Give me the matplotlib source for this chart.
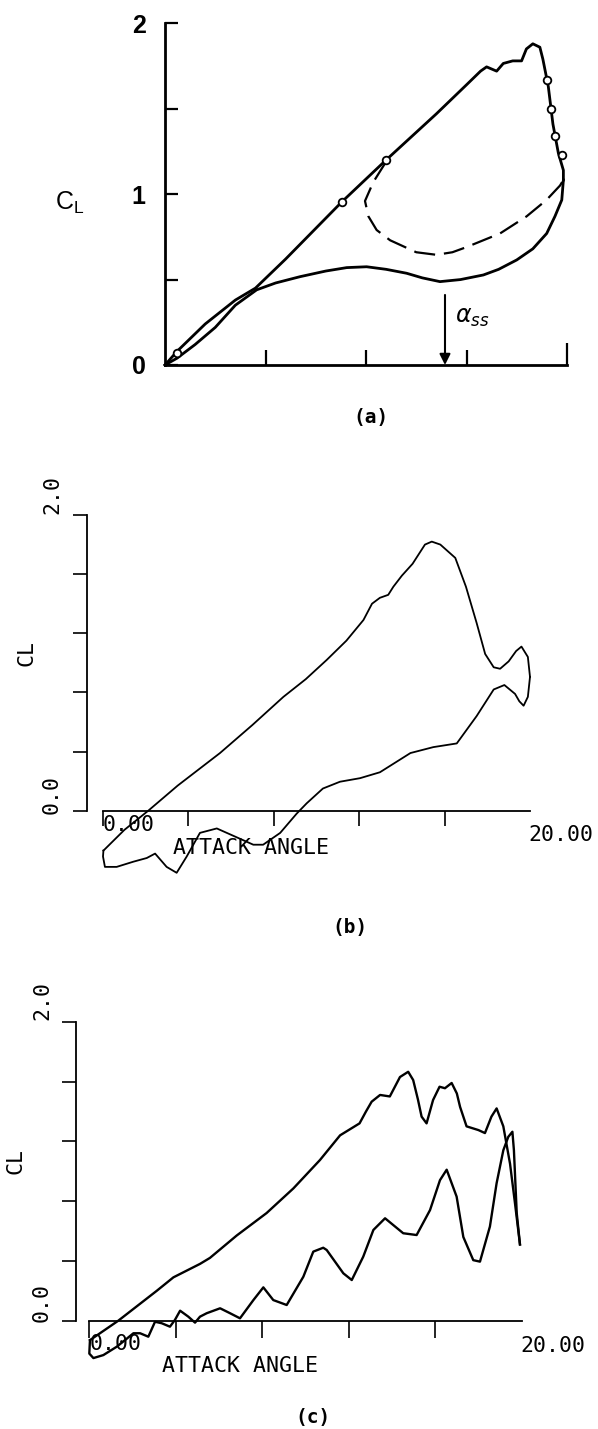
import matplotlib
matplotlib.use("Agg")
import matplotlib.pyplot as plt

W, H = 598, 1429

# ---------------- data ----------------
# Panel (a): experimental hysteresis loop
a_up_alpha = [0.0, 0.6, 2.0, 3.5, 4.5, 6.0, 8.8, 11.0, 13.5, 15.0, 15.7, 16.0, 16.5, 16.83,
              17.3, 17.74, 17.98, 18.3, 18.65, 18.8, 19.07, 19.3, 19.57, 19.82, 19.82]
a_up_cl = [0.0, 0.08, 0.24, 0.38, 0.45, 0.62, 0.955, 1.2, 1.47, 1.64, 1.72, 1.745, 1.72, 1.765,
           1.78, 1.78, 1.85, 1.88, 1.86, 1.79, 1.63, 1.41, 1.24, 1.14, 1.083]
a_dn_alpha = [19.82, 19.74, 19.4, 18.99, 18.3, 17.5, 16.6, 15.84, 14.7, 13.68, 12.8, 12.02,
              11.0, 10.03, 9.04, 8.0, 6.72, 5.5, 4.56, 3.5, 2.5, 1.5, 0.6, 0.0]
a_dn_cl = [1.083, 0.966, 0.87, 0.77, 0.68, 0.615, 0.56, 0.527, 0.50, 0.488, 0.51, 0.537,
           0.56, 0.575, 0.57, 0.55, 0.517, 0.48, 0.44, 0.35, 0.22, 0.12, 0.04, 0.0]
a_dash_alpha = [11.0, 10.36, 9.95, 10.12, 10.53, 11.2, 12.5, 13.5, 14.3, 15.0, 16.67, 17.99,
                18.98, 19.65, 19.82]
a_dash_cl = [1.19, 1.07, 0.96, 0.87, 0.79, 0.73, 0.66, 0.645, 0.66, 0.69, 0.77, 0.87,
             0.966, 1.05, 1.083]
a_mark_alpha = [0.6, 8.8, 11.0, 18.99, 19.19, 19.4, 19.73]
a_mark_cl = [0.07, 0.955, 1.2, 1.67, 1.50, 1.34, 1.23]
alpha_ss = 13.93

# Panel (b): computed loop
b_up_alpha = [0.02, 1.0, 2.12, 3.5, 5.48, 7.0, 8.45, 9.5, 10.48, 11.4, 12.2, 12.6, 12.97, 13.36,
              13.6, 14.0, 14.5, 15.08, 15.4, 15.8, 16.5, 17.0, 17.5, 17.9, 18.3, 18.6, 19.0,
              19.35, 19.6, 19.9, 20.0]
b_up_cl = [-0.27, -0.13, 0.0, 0.17, 0.39, 0.58, 0.77, 0.89, 1.02, 1.15, 1.29, 1.40, 1.44, 1.46,
           1.515, 1.59, 1.67, 1.80, 1.82, 1.80, 1.71, 1.515, 1.27, 1.06, 0.97, 0.96, 1.01,
           1.08, 1.11, 1.04, 0.905]
b_dn_alpha = [20.0, 19.9, 19.7, 19.5, 19.3, 18.8, 18.3, 17.5, 16.57, 15.47, 14.4, 12.97, 12.04,
              11.1, 10.3, 9.54, 9.07, 8.3, 7.5, 7.04, 6.42, 5.33, 4.54, 3.92, 3.45, 2.98, 2.44,
              2.05, 1.42, 0.64, 0.09, 0.0, 0.02]
b_dn_cl = [0.905, 0.77, 0.71, 0.74, 0.79, 0.85, 0.82, 0.64, 0.455, 0.43, 0.39, 0.26, 0.22,
           0.196, 0.15, 0.05, -0.02, -0.15, -0.23, -0.23, -0.19, -0.12, -0.15, -0.31, -0.42,
           -0.38, -0.29, -0.32, -0.345, -0.38, -0.38, -0.31, -0.27]

# Panel (c): computed loop
c_up_alpha = [0.03, 1.34, 3.12, 3.89, 5.12, 5.58, 6.82, 8.2, 9.44, 10.67, 11.6, 12.5, 12.8,
              13.06, 13.45, 13.9, 14.37, 14.75, 14.98, 15.2, 15.37, 15.6, 15.9, 16.2, 16.45,
              16.76, 17.0, 17.15, 17.45, 18.0, 18.3, 18.6, 18.84, 19.15, 19.46, 19.69, 19.92]
c_up_cl = [-0.13, 0.0, 0.2, 0.29, 0.38, 0.42, 0.57, 0.72, 0.885, 1.075, 1.24, 1.32, 1.40,
           1.465, 1.51, 1.50, 1.63, 1.665, 1.61, 1.48, 1.365, 1.32, 1.476, 1.565, 1.555,
           1.59, 1.52, 1.43, 1.30, 1.275, 1.255, 1.365, 1.42, 1.30, 1.05, 0.785, 0.51]
c_dn_alpha = [19.92, 19.77, 19.64, 19.57, 19.38, 19.15, 18.84, 18.53, 18.07, 17.76, 17.3, 16.99,
              16.53, 16.22, 15.76, 15.14, 14.52, 13.68, 13.14, 12.67, 12.14, 11.75, 10.98,
              10.82, 10.36, 9.9, 9.13, 8.51, 8.05, 7.59, 6.97, 6.51, 6.05, 5.43, 5.12, 4.89,
              4.58, 4.2, 3.96, 3.73, 3.35, 3.04, 2.73, 2.35, 2.04, 1.65, 1.27, 0.65, 0.19, 0.0,
              0.03]
c_dn_cl = [0.51, 0.72, 1.14, 1.264, 1.23, 1.14, 0.92, 0.63, 0.395, 0.405, 0.56, 0.83, 1.01,
           0.94, 0.74, 0.573, 0.585, 0.685, 0.607, 0.428, 0.272, 0.317, 0.473, 0.488, 0.462,
           0.294, 0.105, 0.138, 0.223, 0.138, 0.016, 0.05, 0.083, 0.05, 0.027, -0.013, 0.027,
           0.067, 0.005, -0.04, -0.017, -0.007, -0.107, -0.084, -0.084, -0.13, -0.174, -0.23,
           -0.25, -0.22, -0.13]

a_yticks = [0, 0.5, 1, 1.5, 2]
a_yticklabels = ["0", "", "1", "", "2"]
bc_yticks = [0, 0.4, 0.8, 1.2, 1.6, 2.0]
bc_xticks = [0, 4, 8, 12, 16]

# ---------------- figure ----------------
fig = plt.figure(figsize=(W / 100, H / 100), dpi=100)


def rect(L, T, R, B):
    return [L / W, 1 - B / H, (R - L) / W, (B - T) / H]


MONO = "DejaVu Sans Mono"

# ---- panel (a) ----
ax = fig.add_axes(rect(165, 23.3, 567, 365))
ax.set_xlim(0, 20)
ax.set_ylim(0, 2)
for s in ("top", "right"):
    ax.spines[s].set_visible(False)
for s in ("left", "bottom"):
    ax.spines[s].set_linewidth(2.0)
ax.set_yticks(a_yticks)
ax.set_yticklabels(a_yticklabels, fontsize=18, fontweight="bold", family="Liberation Sans")
ax.tick_params(axis="y", direction="in", length=9.5, width=1.6, pad=14)
ax.set_xticks([5, 10, 15])
ax.set_xticks([20], minor=True)
ax.tick_params(axis="x", which="major", direction="in", length=10.5, width=1.6, labelbottom=False)
ax.tick_params(axis="x", which="minor", direction="in", length=16, width=1.6, labelbottom=False)
ax.plot(a_up_alpha, a_up_cl, color="black", lw=2.0, clip_on=False, solid_joinstyle="round")
ax.plot(a_dn_alpha, a_dn_cl, color="black", lw=2.0, clip_on=False, solid_joinstyle="round")
ax.plot(a_dash_alpha, a_dash_cl, color="black", lw=1.6, ls=(0, (9.5, 4.0)), clip_on=False)
ax.plot(a_mark_alpha, a_mark_cl, ls="none", marker="o", ms=5.5, mfc="white", mec="black",
        mew=1.3, clip_on=False)
ax.annotate("", xy=(alpha_ss, 0.0), xytext=(alpha_ss, 0.41),
            arrowprops=dict(arrowstyle="-|>", color="black", lw=1.5, mutation_scale=16,
                            shrinkA=0, shrinkB=0))
ax.text(alpha_ss + 0.5, 0.28, r"$\alpha_{ss}$", fontsize=17, ha="left", va="center")
ax.set_ylabel(r"$\mathregular{C_L}$", rotation=0, fontsize=18, family="Liberation Sans",
              ha="center", va="center")
ax.yaxis.set_label_coords((70 - 165) / 402, (365 - 203) / 341.7)
fig.text(371 / W, 1 - 418 / H, "(a)", ha="center", va="center", family=MONO,
         fontweight="bold", fontsize=14)


def computed_panel(L, R, T0, B0, ymin, x0px, up, dn, lw, xtlen, lab):
    # L,R: pixel extent (left edge = y axis line), T0: pixel of CL=2, B0: pixel of CL=0
    ppu = (B0 - T0) / 2.0
    bottom_px = B0 - ymin * ppu
    ax = fig.add_axes(rect(L, T0, R, bottom_px))
    xppu = (R - x0px) / 20.0
    ax.set_xlim((L - x0px) / xppu, 20)
    ax.set_ylim(ymin, 2.0)
    for s in ("top", "right"):
        ax.spines[s].set_visible(False)
    ax.spines["left"].set_bounds(0, 2)
    ax.spines["bottom"].set_position(("data", 0))
    ax.spines["bottom"].set_bounds(0, 20)
    for s in ("left", "bottom"):
        ax.spines[s].set_linewidth(1.3)
    ax.set_yticks(bc_yticks)
    ax.set_xticks(bc_xticks)
    ax.tick_params(axis="y", direction="out", length=10, width=1.2, labelleft=False)
    ax.tick_params(axis="x", direction="out", length=xtlen, width=1.2, labelbottom=False)
    ax.plot(up[0], up[1], color="black", lw=lw, clip_on=False)
    ax.plot(dn[0], dn[1], color="black", lw=lw, clip_on=False)
    return ax, xppu, ppu


# ---- panel (b) ----
axb, xppu, ppu = computed_panel(86.7, 530, 515, 810.7, -0.5, 103,
                                (b_up_alpha, b_up_cl), (b_dn_alpha, b_dn_cl), 1.3, 10.5, "b")
B0 = 810.7
def d(px, py, x0=103, B=810.7, xp=xppu, yp=ppu):
    return (px - x0) / xp, (B - py) / yp
tk = dict(family=MONO, fontsize=15.5)
axb.text(*d(103, 825), "0.00", ha="left", va="center", **tk)
axb.text(*d(528, 835), "20.00", ha="left", va="center", **tk)
axb.text(*d(173, 848), "ATTACK ANGLE", ha="left", va="center", **tk)
axb.text(*d(52, 495), "2.0", rotation=90, ha="center", va="center", **tk)
axb.text(*d(52, 794), "0.0", rotation=90, ha="center", va="center", **tk)
axb.text(*d(27, 653), "CL", rotation=90, ha="center", va="center", **tk)
fig.text(350 / W, 1 - 927 / H, "(b)", ha="center", va="center", family=MONO,
         fontweight="bold", fontsize=14)

# ---- panel (c) ----
axc, xppu_c, ppu_c = computed_panel(76, 521.7, 1021.7, 1320.7, -0.3, 89.3,
                                    (c_up_alpha, c_up_cl), (c_dn_alpha, c_dn_cl), 1.7, 12, "c")
def dc(px, py):
    return (px - 89.3) / xppu_c, (1320.7 - py) / ppu_c
axc.text(*dc(90, 1344), "0.00", ha="left", va="center", **tk)
axc.text(*dc(520, 1346), "20.00", ha="left", va="center", **tk)
axc.text(*dc(162, 1366), "ATTACK ANGLE", ha="left", va="center", **tk)
axc.text(*dc(42, 1001), "2.0", rotation=90, ha="center", va="center", **tk)
axc.text(*dc(42, 1302), "0.0", rotation=90, ha="center", va="center", **tk)
axc.text(*dc(16, 1161), "CL", rotation=90, ha="center", va="center", **tk)
fig.text(313 / W, 1 - 1417 / H, "(c)", ha="center", va="center", family=MONO,
         fontweight="bold", fontsize=14)

fig.savefig("out.png", dpi=100)
